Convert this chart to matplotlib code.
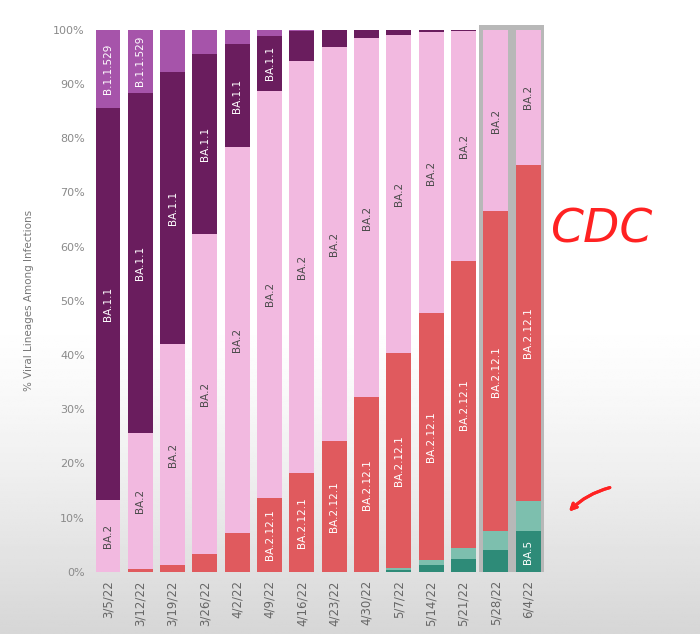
import numpy as np
import matplotlib
matplotlib.use('Agg')
import matplotlib.pyplot as plt
from matplotlib.patches import Rectangle

# weekly lineage shares (%)
weeks = ['3/5/22', '3/12/22', '3/19/22', '3/26/22', '4/2/22', '4/9/22', '4/16/22',
         '4/23/22', '4/30/22', '5/7/22', '5/14/22', '5/21/22', '5/28/22', '6/4/22']
lineages = ['BA.5', 'BA.4', 'BA.2.12.1', 'BA.2', 'BA.1.1', 'B.1.1.529']
ba5 = [0, 0, 0, 0, 0, 0, 0, 0, 0, 0.3, 1.3, 2.4, 4.1, 7.5]
ba4 = [0, 0, 0, 0, 0, 0, 0, 0, 0, 0.5, 0.8, 2.0, 3.4, 5.5]
ba2121 = [0, 0.5, 1.3, 3.3, 7.2, 13.6, 18.2, 24.1, 32.2, 39.5, 45.6, 52.9, 59.0, 62.1]
ba2 = [13.3, 25.1, 40.7, 59.1, 71.1, 75.2, 76.1, 72.8, 66.3, 58.8, 51.9, 42.5, 33.5, 24.9]
ba11 = [72.3, 62.8, 50.3, 33.2, 19.1, 10.1, 5.4, 3.0, 1.4, 0.9, 0.4, 0.2, 0, 0]
b11529 = [14.4, 11.6, 7.7, 4.4, 2.6, 1.1, 0.3, 0.1, 0.1, 0, 0, 0, 0, 0]

colors = ['#2e8b78', '#7dbfae', '#e05a5e', '#f2b9e0', '#6a1d5e', '#a654aa']
text_colors = ['white', 'white', 'white', '#4a4a4a', 'white', 'white']
series = [ba5, ba4, ba2121, ba2, ba11, b11529]

fig = plt.figure(figsize=(7, 6.34), dpi=100)

# screenshot background: white fading to grey towards the bottom
bg = fig.add_axes([0, 0, 1, 1], zorder=-10)
g = np.linspace(0, 1, 300)
shade = np.where(g < 0.5, 0, (g - 0.5) / 0.5) ** 1.3
img = 1 - 0.16 * shade
bg.imshow(img[:, None] * np.ones((1, 10)), cmap='gray', vmin=0, vmax=1,
          aspect='auto', extent=[0, 1, 0, 1], origin='upper')
bg.axis('off')

ax = fig.add_axes([0.133, 0.098, 0.646, 0.855])
x = np.arange(len(weeks))

# grey frame behind the nowcast weeks
ax.add_patch(Rectangle((11.48, 0), 2.02, 100.9, facecolor='#b8b8b8',
                       edgecolor='none', zorder=0, clip_on=False))

bottom = np.zeros(len(weeks))
for name, vals, c, tc in zip(lineages, series, colors, text_colors):
    vals = np.array(vals)
    ax.bar(x, vals, width=0.77, bottom=bottom, color=c, zorder=2)
    for i, v in enumerate(vals):
        if v > len(name) + 2:
            ax.text(x[i], bottom[i] + v / 2, name, rotation=90, ha='center',
                    va='center', fontsize=7.5, color=tc, zorder=3)
    bottom += vals

ax.set_xlim(-0.46, 13.53)
ax.set_ylim(0, 100)
ax.set_yticks(np.arange(0, 101, 10))
ax.set_yticklabels([f'{t}%' for t in range(0, 101, 10)], fontsize=8, color='#8a8a8a')
ax.set_xticks(x)
ax.set_xticklabels(weeks, rotation=90, fontsize=8.5, color='#666666')
ax.tick_params(length=0, pad=6)
for s in ax.spines.values():
    s.set_visible(False)
ax.set_facecolor('none')
ax.set_ylabel('% Viral Lineages Among Infections', fontsize=7.5, color='#777777', labelpad=14)

# handwritten notes on the screenshot
fig.text(0.786, 0.637, 'CDC', fontsize=34, color='#ff2222', ha='left', va='center',
         family='DejaVu Sans', style='italic')
fig.add_artist(plt.annotate('', xy=(0.81, 0.19), xytext=(0.875, 0.232),
                            xycoords='figure fraction',
                            arrowprops=dict(arrowstyle='->', color='#ff2222', lw=2.2,
                                            connectionstyle='arc3,rad=0.15')))

fig.savefig('out.png', dpi=100)
